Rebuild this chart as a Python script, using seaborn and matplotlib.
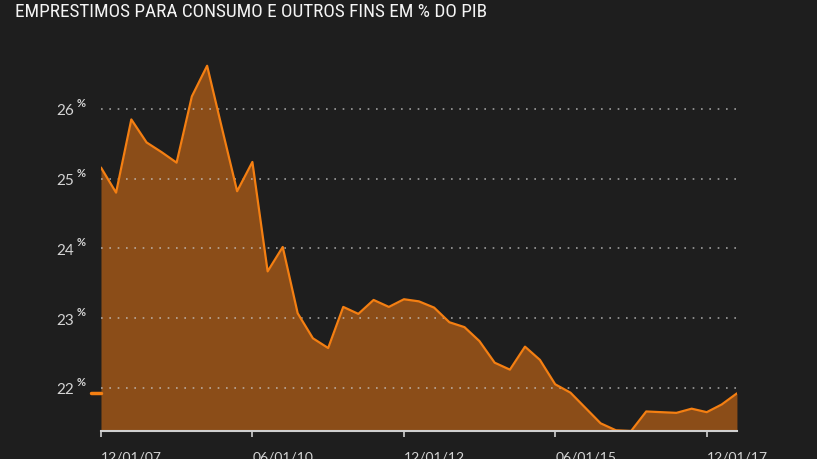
import pandas as pd
import numpy as np
import matplotlib
matplotlib.use("Agg")
import matplotlib.pyplot as plt
import matplotlib.dates as mdates
import matplotlib.transforms as mtransforms
from matplotlib import font_manager
import seaborn as sns

# quarterly series, Dec 2007 .. Jun 2018
dates = pd.date_range("2007-12-01", periods=43, freq="3MS")
values = [25.16, 24.80, 25.85, 25.52, 25.38, 25.23, 26.18, 26.62, 25.71, 24.82,
          25.24, 23.67, 24.02, 23.07, 22.71, 22.57, 23.16, 23.06, 23.26, 23.16,
          23.27, 23.24, 23.15, 22.94, 22.87, 22.67, 22.36, 22.26, 22.59, 22.40,
          22.05, 21.93, 21.71, 21.49, 21.39, 21.38, 21.66, 21.65, 21.64, 21.70,
          21.65, 21.76, 21.92]
y_ticks = [22, 23, 24, 25, 26]
x_tick_dates = pd.to_datetime(["2007-12-01", "2010-06-01", "2012-12-01",
                               "2015-06-01", "2017-12-01"])
title = "EMPRESTIMOS PARA CONSUMO E OUTROS FINS EM % DO PIB"

BG = "#1e1e1e"
FILL = "#8b4d18"
LINE = "#f47f12"
TXT = "#d4d4d4"

sns.set_theme(style="dark", rc={
    "figure.facecolor": BG,
    "axes.facecolor": BG,
    "savefig.facecolor": BG,
})
plt.rcParams["font.family"] = ["Lato", "DejaVu Sans"]


def pick_title_font():
    # a condensed face if installed, else Roboto (fairly narrow)
    for name in ["Liberation Sans Narrow", "DejaVu Sans Condensed",
                 "Roboto Condensed", "Open Sans Condensed"]:
        try:
            font_manager.findfont(name, fallback_to_default=False)
            return name
        except ValueError:
            pass
    return "Roboto"


df = pd.DataFrame({"date": dates, "value": values})

fig = plt.figure(figsize=(8.17, 4.6), dpi=100)
ax = fig.add_axes([0.1236, 0.0609, 0.7784, 0.8515])

ax.fill_between(df["date"], df["value"], 21.0, color=FILL, linewidth=0, zorder=1)
sns.lineplot(data=df, x="date", y="value", color=LINE, linewidth=1.6, ax=ax, zorder=4)

# dotted grid lines over the fill
for yv in y_ticks:
    ax.axhline(yv, color="#c8c8c8", linestyle=(0, (1, 4)), linewidth=1.2,
               alpha=0.75, zorder=3)

# small orange marker at the left showing the latest value
ax.axhline(values[-1], xmin=-0.016, xmax=0.0, color=LINE, linewidth=2.5,
           clip_on=False, zorder=5)

ax.set_xlim(dates[0], dates[-1])
ax.set_ylim(21.38, 27.0)
ax.set_xlabel("")
ax.set_ylabel("")

for s in ["top", "right", "left"]:
    ax.spines[s].set_visible(False)
ax.spines["bottom"].set_color("#d0d0d0")
ax.spines["bottom"].set_linewidth(1.5)
ax.spines["bottom"].set_zorder(6)

ax.set_yticks(y_ticks)
ax.set_yticklabels([str(v) for v in y_ticks])
ax.tick_params(axis="y", length=0, pad=19.5, labelsize=11, labelcolor=TXT)

# small raised % sign next to each y label
trans = mtransforms.blended_transform_factory(ax.transAxes, ax.transData)
for yv in y_ticks:
    ax.annotate("%", xy=(0, yv), xycoords=trans, xytext=(-17.3, 8.6),
                textcoords="offset points", ha="left", va="top",
                fontsize=8, fontweight="bold", color=TXT, annotation_clip=False)

ax.set_xticks(x_tick_dates)
ax.xaxis.set_major_formatter(mdates.DateFormatter("%m/%d/%y"))
ax.tick_params(axis="x", bottom=True, length=4.3, width=1.2, color="#d0d0d0",
               pad=10, labelsize=10, labelcolor=TXT)
for lbl in ax.get_xticklabels():
    lbl.set_horizontalalignment("left")
ax.grid(False)

# title sized to roughly the reference width
tfont = pick_title_font()
t = fig.text(0.018, 1 - 17 / 460, title, color="#f4f4f4", fontsize=15,
             va="baseline", ha="left", family=[tfont, "DejaVu Sans"])
fig.canvas.draw()
w = t.get_window_extent(fig.canvas.get_renderer()).width
t.set_fontsize(min(15, 15 * 475 / w))

fig.savefig("out.png", dpi=100, facecolor=BG)
